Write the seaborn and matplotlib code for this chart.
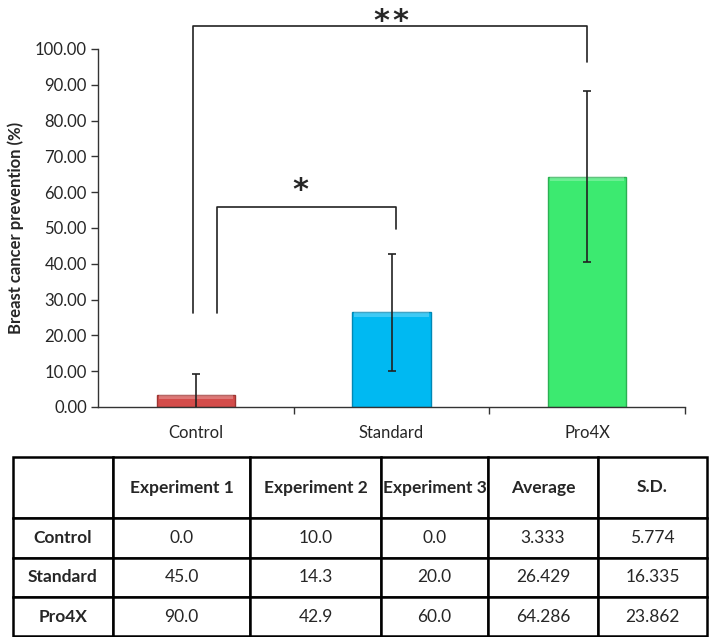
import numpy as np
import pandas as pd
import matplotlib
matplotlib.use("Agg")
import matplotlib.pyplot as plt
import seaborn as sns

# data
groups = ["Control", "Standard", "Pro4X"]
exp1 = [0.0, 45.0, 90.0]
exp2 = [10.0, 14.3, 42.9]
exp3 = [0.0, 20.0, 60.0]
average = [3.333, 26.429, 64.286]
sd = [5.774, 16.335, 23.862]
col_labels = ["", "Experiment 1", "Experiment 2", "Experiment 3", "Average", "S.D."]

bar_colors = ["#D34C4A", "#00B9F2", "#3CEA70"]
edge_colors = ["#9E3532", "#0088B5", "#2BB052"]

sns.set_theme(style="white")
plt.rcParams['font.family'] = ['Lato', 'DejaVu Sans']

df = pd.DataFrame({"group": groups, "avg": average, "sd": sd})

fig = plt.figure(figsize=(7.09, 6.37), dpi=100)
ax = fig.add_axes([0.1382, 0.3611, 0.828, 0.562])

sns.barplot(data=df, x="group", y="avg", hue="group", palette=bar_colors,
            width=0.4, legend=False, ax=ax, saturation=1)
for patch, ec in zip(ax.patches, edge_colors):
    patch.set_edgecolor(ec)
    patch.set_linewidth(1.0)
    # light bevel along the top edge
    x0, w, h = patch.get_x(), patch.get_width(), patch.get_height()
    ax.add_patch(plt.Rectangle((x0 + 0.01, h - min(1.2, h * 0.3)), w - 0.02, min(1.2, h * 0.3),
                               color="white", alpha=0.25, lw=0, zorder=patch.get_zorder() + 0.1))

ax.errorbar(np.arange(len(groups)), df["avg"], yerr=df["sd"], fmt="none",
            ecolor="#222222", elinewidth=1.2, capsize=3, capthick=1.2, zorder=5)

ax.set_xlim(-0.5, 2.5)
ax.set_ylim(0, 100)
ax.set_yticks(np.arange(0, 101, 10))
ax.set_yticklabels([f"{v:.2f}" for v in np.arange(0, 101, 10)], fontsize=12)
ax.set_xlabel("")
ax.set_ylabel("Breast cancer prevention (%)", fontsize=12, fontweight="bold", labelpad=8)
ax.set_xticks(range(3))
ax.set_xticklabels(groups, fontsize=12)
ax.set_xticks([0.5, 1.5, 2.5], minor=True)
ax.tick_params(axis="x", which="major", length=0, pad=13)
ax.tick_params(axis="x", which="minor", length=5, width=1, color="#333333", direction="out", bottom=True)
ax.tick_params(axis="y", length=5, width=1, color="#333333", direction="out", left=True, pad=3)
sns.despine(ax=ax)
for s in ["left", "bottom"]:
    ax.spines[s].set_color("#333333")
    ax.spines[s].set_linewidth(1.0)

# significance brackets
lc = "#222222"
star_font = dict(ha="center", va="baseline", fontsize=22, fontweight="bold",
                 family=["DejaVu Sans"], clip_on=False)
ax.plot([0.108, 0.108, 1.023, 1.023], [26.3, 56.0, 56.0, 49.7], color=lc, lw=1.2, clip_on=False)
ax.text(0.532, 58.1, "*", **star_font)
ax.plot([-0.014, -0.014, 2.0, 2.0], [26.3, 106.4, 106.4, 96.4], color=lc, lw=1.2, clip_on=False)
ax.text(1.0, 105.2, "*\u200a*", **star_font)

# table
tax = fig.add_axes([13 / 709, 1 / 637, 694 / 709, 179 / 637])
tax.axis("off")
cell_text = [col_labels]
for g, a, b, c, m, s in zip(groups, exp1, exp2, exp3, average, sd):
    cell_text.append([g, f"{a:.1f}", f"{b:.1f}", f"{c:.1f}", f"{m:.3f}", f"{s:.3f}"])
col_w = [100, 137, 131, 107, 110, 109]
row_h = [61, 40, 39, 39]
tbl = tax.table(cellText=cell_text, cellLoc="center", bbox=[0, 0, 1, 1],
                colWidths=[w / sum(col_w) for w in col_w])
tbl.auto_set_font_size(False)
for (r, c), cell in tbl.get_celld().items():
    cell.set_height(row_h[r] / sum(row_h))
    cell.set_linewidth(1.8)
    cell.set_edgecolor("black")
    cell.get_text().set_fontsize(12.5)
    if r == 0 or c == 0:
        cell.get_text().set_fontweight("bold")

fig.savefig("out.png", dpi=100)
